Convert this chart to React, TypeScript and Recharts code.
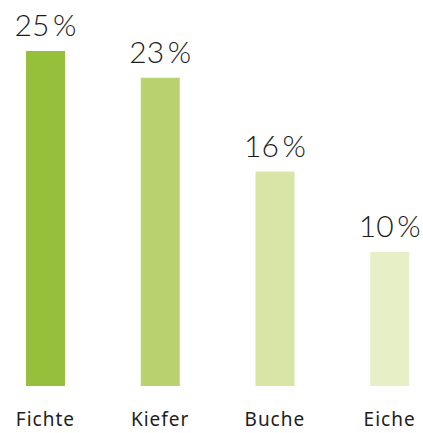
import { BarChart, Bar, XAxis, YAxis, LabelList, Cell } from "recharts";

const species = ["Fichte", "Kiefer", "Buche", "Eiche"];
const shares = [25, 23, 16, 10];
const COLORS = ["#96c03c", "#b9d16e", "#d8e5a6", "#e6efc6"];

const chartData = species.map((name, i) => ({ name, share: shares[i] }));

export default function App() {
  return (
    <div
      style={{
        position: "absolute",
        left: 0,
        top: 0,
        width: 423,
        height: 433,
        overflow: "hidden",
        background: "#fff",
        fontFamily: "Lato, sans-serif",
      }}
    >
      <div style={{ position: "absolute", left: -12, top: 0 }}>
        <BarChart
          width={459}
          height={433}
          data={chartData}
          margin={{ top: 51, right: 0, bottom: 0, left: 0 }}
          barSize={39}
        >
          <XAxis
            dataKey="name"
            axisLine={false}
            tickLine={false}
            tickSize={0}
            tickMargin={27}
            height={47}
            interval={0}
            tick={{
              fill: "#1d1d1b",
              fontSize: 19,
              fontFamily: "'Noto Sans', sans-serif",
              fontWeight: 400,
              letterSpacing: 1,
            }}
          />
          <YAxis hide domain={[0, 25]} />
          <Bar dataKey="share" isAnimationActive={false}>
            {chartData.map((_, i) => (
              <Cell key={i} fill={COLORS[i]} />
            ))}
            <LabelList
              dataKey="share"
              position="top"
              offset={15}
              formatter={(v: number) => `${v}\u2009%`}
              style={{ fill: "#1d1d1b", fontSize: 30, fontWeight: 300 }}
            />
          </Bar>
        </BarChart>
      </div>
    </div>
  );
}
